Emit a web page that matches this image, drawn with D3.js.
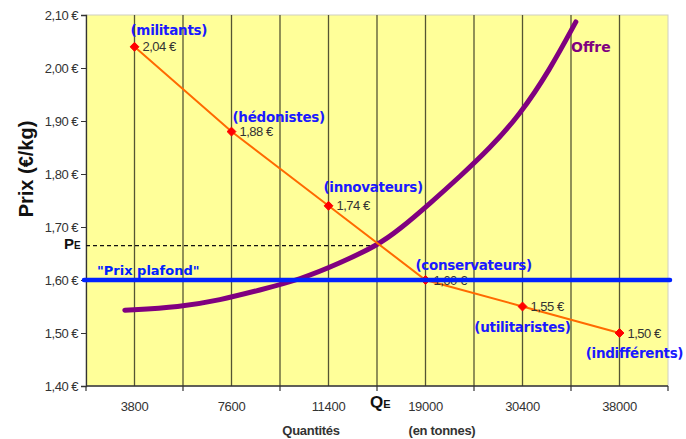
<!DOCTYPE html>
<html>
<head>
<meta charset="utf-8">
<script src="https://cdn.jsdelivr.net/npm/d3@7"></script>
<style>
  html, body { margin: 0; padding: 0; background: #ffffff; }
  svg { display: block; }
</style>
</head>
<body>
<svg id="chart" width="686" height="439"></svg>
<script>
// ---- DATA ----
const quantities = ["3800", "7600", "11400", "19000", "30400", "38000"];
const demandPrices = [2.04, 1.88, 1.74, 1.60, 1.55, 1.50];
const segments = ["(militants)", "(hédonistes)", "(innovateurs)", "(conservateurs)", "(utilitaristes)", "(indifférents)"];
const yTicks = [1.40, 1.50, 1.60, 1.70, 1.80, 1.90, 2.00, 2.10];
// supply curve: position in category units, price
const offreX = [-0.10, 0.47, 0.88, 1.29, 1.71, 2.12, 2.51, 2.73, 3.05, 3.36, 3.66, 3.97, 4.28, 4.55];
const offreY = [1.543, 1.549, 1.562, 1.581, 1.601, 1.632, 1.666, 1.695, 1.745, 1.796, 1.848, 1.911, 1.996, 2.087];
const prixPlafond = 1.60;
const equilibriumPrice = 1.665;
const equilibriumPos = 2.5; // between 11400 and 19000

// ---- LAYOUT ----
const svg = d3.select("#chart");
const L = 86, R = 668, T = 15, B = 386;

const xBand = d3.scaleBand().domain(quantities).range([L, R]).padding(0);
const xi = d3.scaleLinear().domain([-0.5, quantities.length - 0.5]).range([L, R]);
const y = d3.scaleLinear().domain([1.40, 2.10]).range([B, T]);

const fmtEuro = v => v.toFixed(2).replace(".", ",") + " €";

// plot background
svg.append("rect").attr("x", L).attr("y", T).attr("width", R - L).attr("height", B - T)
  .attr("fill", "#ffff99").attr("stroke", "#d0d0c0").attr("stroke-width", 1);

// vertical grid lines: at category centres and boundaries
const gridPos = d3.range(-0.5, quantities.length - 0.4, 0.5).filter(v => v > -0.5 && v < quantities.length - 0.5);
svg.append("g").selectAll("line").data(gridPos).join("line")
  .attr("x1", d => xi(d)).attr("x2", d => xi(d))
  .attr("y1", T).attr("y2", B)
  .attr("stroke", "#555533").attr("stroke-width", 1.3);

// Y axis
const yAxis = d3.axisLeft(y).tickValues(yTicks).tickFormat(fmtEuro).tickSize(5).tickPadding(3);
const gy = svg.append("g").attr("transform", `translate(${L},0)`).call(yAxis);
gy.select(".domain").attr("stroke", "#333").attr("stroke-width", 1.3);
gy.selectAll(".tick line").attr("stroke", "#333");
gy.selectAll(".tick text").attr("fill", "#333")
  .style("font-family", "'Liberation Sans', Arial, sans-serif").style("font-size", "13px")
  .style("letter-spacing", "-0.5px");

// X axis: labels at category centres, tick marks at boundaries
const xAxis = d3.axisBottom(xBand).tickSize(0).tickPadding(16);
const gx = svg.append("g").attr("transform", `translate(0,${B})`).call(xAxis);
gx.select(".domain").attr("stroke", "#333").attr("stroke-width", 1.3).attr("d", `M${L},0H${R}`);
gx.selectAll(".tick text").attr("fill", "#333")
  .style("font-family", "'Liberation Sans', Arial, sans-serif").style("font-size", "13px")
  .style("letter-spacing", "-0.3px");
gx.selectAll(".boundary").data(d3.range(0, quantities.length + 1)).join("line")
  .attr("class", "boundary")
  .attr("x1", d => xi(d - 0.5)).attr("x2", d => xi(d - 0.5))
  .attr("y1", 0).attr("y2", 5).attr("stroke", "#333").attr("stroke-width", 1.2);

// axis titles
svg.append("text").attr("transform", `translate(33,169) rotate(-90)`)
  .attr("text-anchor", "middle")
  .style("font-family", "'Liberation Sans', Arial, sans-serif").style("font-weight", "bold")
  .style("font-size", "20px").attr("fill", "#111").text("Prix (€/kg)");
svg.append("text").attr("x", 311).attr("y", 435).attr("text-anchor", "middle")
  .style("font-family", "'Liberation Sans', Arial, sans-serif").style("font-weight", "bold")
  .style("font-size", "13px").attr("fill", "#333").style("letter-spacing", "-0.3px").text("Quantités");
svg.append("text").attr("x", 442).attr("y", 435).attr("text-anchor", "middle")
  .style("font-family", "'Liberation Sans', Arial, sans-serif").style("font-weight", "bold")
  .style("font-size", "13px").attr("fill", "#333").style("letter-spacing", "-0.3px").text("(en tonnes)");

// equilibrium dashed line and labels
svg.append("line")
  .attr("x1", L).attr("x2", xi(equilibriumPos))
  .attr("y1", y(equilibriumPrice)).attr("y2", y(equilibriumPrice))
  .attr("stroke", "#111").attr("stroke-width", 1.2).attr("stroke-dasharray", "4,3");
const pe = svg.append("text").attr("x", 64).attr("y", y(equilibriumPrice) + 3)
  .style("font-family", "'Liberation Sans', Arial, sans-serif").style("font-weight", "bold").attr("fill", "#111");
pe.append("tspan").style("font-size", "15px").text("P");
pe.append("tspan").style("font-size", "10px").text("E");
const qe = svg.append("text").attr("x", xi(equilibriumPos) - 7).attr("y", B + 22)
  .style("font-family", "'Liberation Sans', Arial, sans-serif").style("font-weight", "bold").attr("fill", "#111");
qe.append("tspan").style("font-size", "17px").text("Q");
qe.append("tspan").style("font-size", "11px").text("E");

// supply curve
const offre = offreX.map((v, i) => [v, offreY[i]]);
svg.append("path").datum(offre)
  .attr("d", d3.line().x(d => xi(d[0])).y(d => y(d[1])).curve(d3.curveBasis))
  .attr("fill", "none").attr("stroke", "#800080").attr("stroke-width", 5).attr("stroke-linecap", "round");
svg.append("text").attr("x", 571).attr("y", 52)
  .style("font-family", "'DejaVu Sans', sans-serif").style("font-weight", "bold")
  .style("font-size", "14px").attr("fill", "#800080").text("Offre");

// demand line
const demand = demandPrices.map((p, i) => [i, p]);
svg.append("path").datum(demand)
  .attr("d", d3.line().x(d => xi(d[0])).y(d => y(d[1])))
  .attr("fill", "none").attr("stroke", "#ff6a00").attr("stroke-width", 2);
svg.append("g").selectAll("path").data(demand).join("path")
  .attr("transform", d => `translate(${xi(d[0])},${y(d[1])})`)
  .attr("d", d3.symbol(d3.symbolDiamond2, 50))
  .attr("fill", "#ff0000").attr("stroke", "#ff0000").attr("stroke-width", 1);

// value labels
svg.append("g").selectAll("text").data(demand).join("text")
  .attr("x", d => xi(d[0]) + 8).attr("y", d => y(d[1]) + 4.5)
  .style("font-family", "'Liberation Sans', Arial, sans-serif").style("font-size", "13px")
  .style("letter-spacing", "-0.5px").attr("fill", "#333")
  .text(d => fmtEuro(d[1]));

// prix plafond line
svg.append("line").attr("x1", L - 2).attr("x2", R + 2)
  .attr("y1", y(prixPlafond)).attr("y2", y(prixPlafond))
  .attr("stroke", "#0022ff").attr("stroke-width", 4.5).attr("stroke-linecap", "round");
svg.append("text").attr("x", 97).attr("y", 275)
  .style("font-family", "'DejaVu Sans', sans-serif").style("font-weight", "bold")
  .style("font-size", "13px").attr("fill", "#0022ff").text("\"Prix plafond\"");

// segment labels
const segOffsets = [[-4, -12, "start"], [1, -10, "start"], [-5, -14, "start"], [-10, -10, "start"], [0, 25, "middle"], [15, 25, "middle"]];
svg.append("g").selectAll("text").data(segments).join("text")
  .attr("x", (d, i) => xi(i) + segOffsets[i][0])
  .attr("y", (d, i) => y(demandPrices[i]) + segOffsets[i][1])
  .attr("text-anchor", (d, i) => segOffsets[i][2])
  .style("font-family", "'DejaVu Sans', sans-serif").style("font-weight", "bold")
  .style("font-size", "13.5px").attr("fill", "#1a1aff").style("letter-spacing", "-0.3px")
  .text(d => d);
</script>
</body>
</html>
